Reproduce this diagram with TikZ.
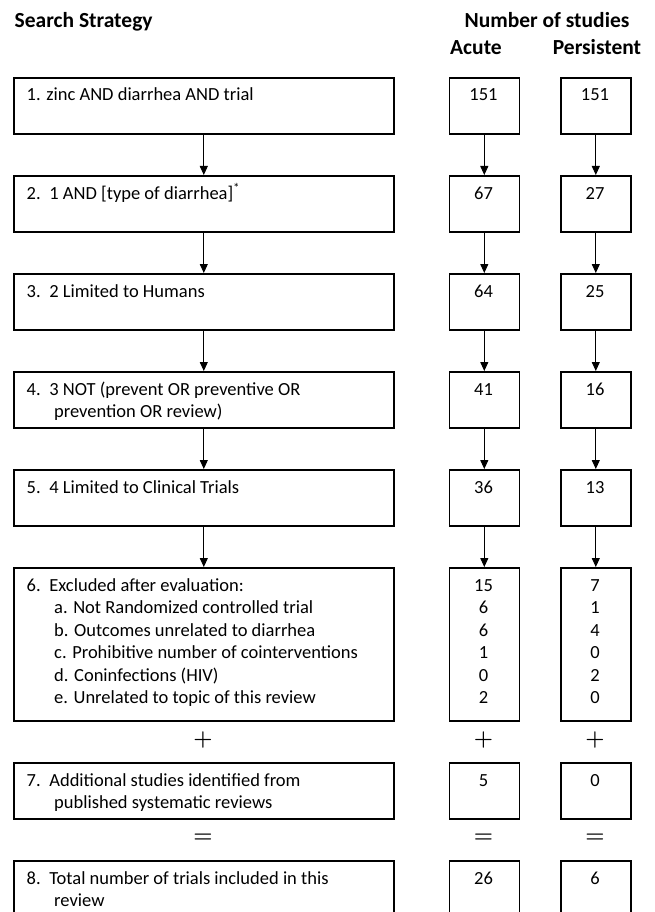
\documentclass[tikz,border=0pt]{standalone}
\usepackage{fontspec}
\newfontfamily\calibri{Carlito}
\usetikzlibrary{arrows.meta}
\newcommand\bodyfont{\calibri\fontsize{18.5}{22.5}\selectfont}
\newcommand\headfont{\calibri\bfseries\fontsize{21.5}{26}\selectfont}
\newcommand\opfont{\rmfamily\bfseries\fontsize{22}{26}\selectfont}
\newcommand\itemgap{\hspace{8.6pt}}
\tikzset{
  box/.style={draw=black, line width=1.6pt, inner sep=0pt, anchor=north west},
  mainbox/.style={box, minimum width=380pt},
  numbox/.style={box, minimum width=70pt},
  arr/.style={draw=black, line width=1pt, -{Triangle[width=8pt,length=9pt]}},
  txt/.style={font=\bodyfont, anchor=base west, inner sep=0pt},
  num/.style={font=\bodyfont, anchor=base, inner sep=0pt},
  head/.style={font=\headfont, inner sep=0pt},
  op/.style={font=\opfont, anchor=base, inner sep=0pt}
}
\begin{document}
\begin{tikzpicture}[x=1pt,y=-1pt]
\clip (0,0) rectangle (654,912);
\fill[white] (0,0) rectangle (654,912);
% headings
\node[head, anchor=base west] (hs) at (14.5,28) {Search Strategy};
\node[head, anchor=base] (hn) at (547,28) {Number of studies};
\node[head, anchor=base] (ha) at (476,55) {Acute};
\node[head, anchor=base] (hp) at (597,55) {Persistent};
% main boxes
\node[mainbox, minimum height=56pt] (m1) at (13,77) {};
\node[mainbox, minimum height=56pt] (m2) at (13,175) {};
\node[mainbox, minimum height=56pt] (m3) at (13,273) {};
\node[mainbox, minimum height=56pt] (m4) at (13,371) {};
\node[mainbox, minimum height=56pt] (m5) at (13,469) {};
\node[mainbox, minimum height=153pt] (m6) at (13,567) {};
\node[mainbox, minimum height=56pt] (m7) at (13,762) {};
\node[mainbox, minimum height=56pt] (m8) at (13,860) {};
% acute boxes
\node[numbox, minimum height=56pt] (a1) at (448.5,77) {};
\node[numbox, minimum height=56pt] (a2) at (448.5,175) {};
\node[numbox, minimum height=56pt] (a3) at (448.5,273) {};
\node[numbox, minimum height=56pt] (a4) at (448.5,371) {};
\node[numbox, minimum height=56pt] (a5) at (448.5,469) {};
\node[numbox, minimum height=153pt] (a6) at (448.5,567) {};
\node[numbox, minimum height=56pt] (a7) at (448.5,762) {};
\node[numbox, minimum height=56pt] (a8) at (448.5,860) {};
% persistent boxes
\node[numbox, minimum height=56pt] (p1) at (560,77) {};
\node[numbox, minimum height=56pt] (p2) at (560,175) {};
\node[numbox, minimum height=56pt] (p3) at (560,273) {};
\node[numbox, minimum height=56pt] (p4) at (560,371) {};
\node[numbox, minimum height=56pt] (p5) at (560,469) {};
\node[numbox, minimum height=153pt] (p6) at (560,567) {};
\node[numbox, minimum height=56pt] (p7) at (560,762) {};
\node[numbox, minimum height=56pt] (p8) at (560,860) {};
% arrows
\foreach \c in {m,a,p}{
  \draw[arr] (\c1.south) -- (\c2.north);
  \draw[arr] (\c2.south) -- (\c3.north);
  \draw[arr] (\c3.south) -- (\c4.north);
  \draw[arr] (\c4.south) -- (\c5.north);
  \draw[arr] (\c5.south) -- (\c6.north);
}
% main texts
\node[txt] (t1) at (26.5,101) {1. zinc AND diarrhea AND trial};
\node[txt] (t2) at (26.5,199) {2.\itemgap 1 AND [type of diarrhea]\textsuperscript{*}};
\node[txt] (t3) at (26.5,297) {3.\itemgap 2 Limited to Humans};
\node[txt] (t4) at (26.5,395) {4.\itemgap 3 NOT (prevent OR preventive OR};
\node[txt] (t4b) at (54,417.5) {prevention OR review)};
\node[txt] (t5) at (26.5,493) {5.\itemgap 4 Limited to Clinical Trials};
\node[txt] (t6) at (26.5,591) {6.\itemgap Excluded after evaluation:};
\node[txt] (t6a) at (54,613.5) {a. Not Randomized controlled trial};
\node[txt] (t6b) at (54,636) {b. Outcomes unrelated to diarrhea};
\node[txt] (t6c) at (54,658.5) {c. Prohibitive number of cointerventions};
\node[txt] (t6d) at (54,681) {d. Coninfections (HIV)};
\node[txt] (t6e) at (54,703.5) {e. Unrelated to topic of this review};
\node[txt] (t7) at (26.5,786) {7.\itemgap Additional studies identified from};
\node[txt] (t7b) at (54,808.5) {published systematic reviews};
\node[txt] (t8) at (26.5,884) {8.\itemgap Total number of trials included in this};
\node[txt] (t8b) at (54,906.5) {review};
% numbers
\node[num] (n1a) at (483.5,101) {151};
\node[num] (n1p) at (595,101) {151};
\node[num] (n2a) at (483.5,199) {67};
\node[num] (n2p) at (595,199) {27};
\node[num] (n3a) at (483.5,297) {64};
\node[num] (n3p) at (595,297) {25};
\node[num] (n4a) at (483.5,395) {41};
\node[num] (n4p) at (595,395) {16};
\node[num] (n5a) at (483.5,493) {36};
\node[num] (n5p) at (595,493) {13};
\foreach \i/\va/\vp in {0/15/7,1/6/1,2/6/4,3/1/0,4/0/2,5/2/0}{
  \node[num] (n6a\i) at (483.5,591+22.5*\i) {\va};
  \node[num] (n6p\i) at (595,591+22.5*\i) {\vp};
}
\node[num] (n7a) at (483.5,786) {5};
\node[num] (n7p) at (595,786) {0};
\node[num] (n8a) at (483.5,884) {26};
\node[num] (n8p) at (595,884) {6};
% operators
\node[op] (plm) at (203,745.5) {+};
\node[op] (pla) at (483.5,745.5) {+};
\node[op] (plp) at (595,745.5) {+};
\node[op] (eqm) at (203,842.5) {=};
\node[op] (eqa) at (483.5,842.5) {=};
\node[op] (eqp) at (595,842.5) {=};
\end{tikzpicture}
\end{document}
